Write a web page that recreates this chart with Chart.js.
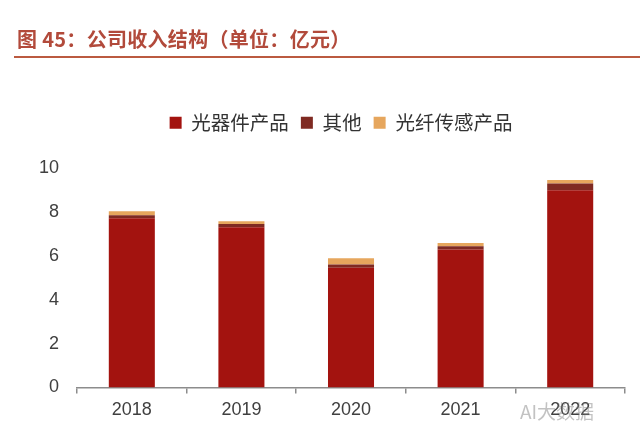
<!DOCTYPE html>
<html>
<head>
<meta charset="utf-8">
<script src="https://cdn.jsdelivr.net/npm/chart.js@4/dist/chart.umd.min.js"></script>
<style>
  html, body { margin: 0; padding: 0; background: #ffffff; }
  #wrap { position: relative; width: 640px; height: 433px; overflow: hidden; }
  #title { position: absolute; left: 17px; top: 24px; font-family: "Noto Sans CJK SC", sans-serif; font-size: 20px; font-weight: 700; color: #b24a3b; white-space: nowrap; line-height: 30px; letter-spacing: 0.3px; }
  #rule { position: absolute; left: 14px; top: 56px; width: 626px; height: 2px; background: #bb5a40; }
  #wm { position: absolute; left: 520px; top: 397px; font-family: "Noto Sans CJK SC", sans-serif; font-size: 19px; color: rgba(120,120,120,0.45); white-space: nowrap; }
  canvas { position: absolute; left: 0; top: 0; }
</style>
</head>
<body>
<div id="wrap">
  <canvas id="c" width="640" height="433"></canvas>
  <div id="title">图 45：公司收入结构（单位：亿元）</div>
  <div id="rule"></div>
  <div id="wm">AI大数据</div>
</div>
<script>
const years = ["2018", "2019", "2020", "2021", "2022"];
const seriesNames = ["光器件产品", "其他", "光纤传感产品"];
const opticalDevices = [7.73, 7.32, 5.47, 6.30, 9.01];
const others = [0.14, 0.14, 0.15, 0.15, 0.30];
const fiberSensing = [0.18, 0.13, 0.28, 0.15, 0.16];
const yTicks = [0, 2, 4, 6, 8, 10];
const colors = ["#a3130f", "#7f2a22", "#e6a65d"];

const legendTweak = {
  id: 'legendTweak',
  beforeInit(chart) {
    const orig = chart.legend.fit;
    chart.legend.fit = function () {
      orig.bind(chart.legend)();
      this.height += 26;
    };
  },
  afterLayout(chart) {
    chart.legend.left += 14;
    chart.legend.right += 14;
  }
};

new Chart(document.getElementById('c'), {
  type: 'bar',
  data: {
    labels: years,
    datasets: [
      { label: seriesNames[0], data: opticalDevices, backgroundColor: colors[0] },
      { label: seriesNames[1], data: others, backgroundColor: colors[1] },
      { label: seriesNames[2], data: fiberSensing, backgroundColor: colors[2] }
    ]
  },
  options: {
    responsive: false,
    animation: false,
    devicePixelRatio: 1,
    datasets: { bar: { barPercentage: 0.42, categoryPercentage: 1.0, borderWidth: 0 } },
    layout: { padding: { top: 101, left: 29, right: 15, bottom: 6 } },
    plugins: {
      tooltip: { enabled: false },
      legend: {
        position: 'top',
        labels: {
          boxWidth: 12, boxHeight: 12, padding: 12,
          color: '#333333',
          font: { family: '"Noto Sans CJK SC", sans-serif', size: 19.5 }
        }
      }
    },
    scales: {
      x: {
        stacked: true,
        offset: true,
        grid: { display: true, drawOnChartArea: false, drawTicks: true, tickLength: 6, color: '#8c8c8c', offset: true, lineWidth: 1.5 },
        border: { display: true, color: '#8c8c8c', width: 1.5 },
        ticks: { color: '#404040', padding: 6, font: { family: '"Liberation Sans", Arial, sans-serif', size: 18 } }
      },
      y: {
        stacked: true,
        min: 0, max: 10,
        afterBuildTicks(axis) { axis.ticks = yTicks.map(v => ({ value: v })); },
        grid: { display: false },
        border: { display: false },
        ticks: { color: '#404040', padding: 10, font: { family: '"Liberation Sans", Arial, sans-serif', size: 18 } }
      }
    }
  },
  plugins: [legendTweak]
});
</script>
</body>
</html>
